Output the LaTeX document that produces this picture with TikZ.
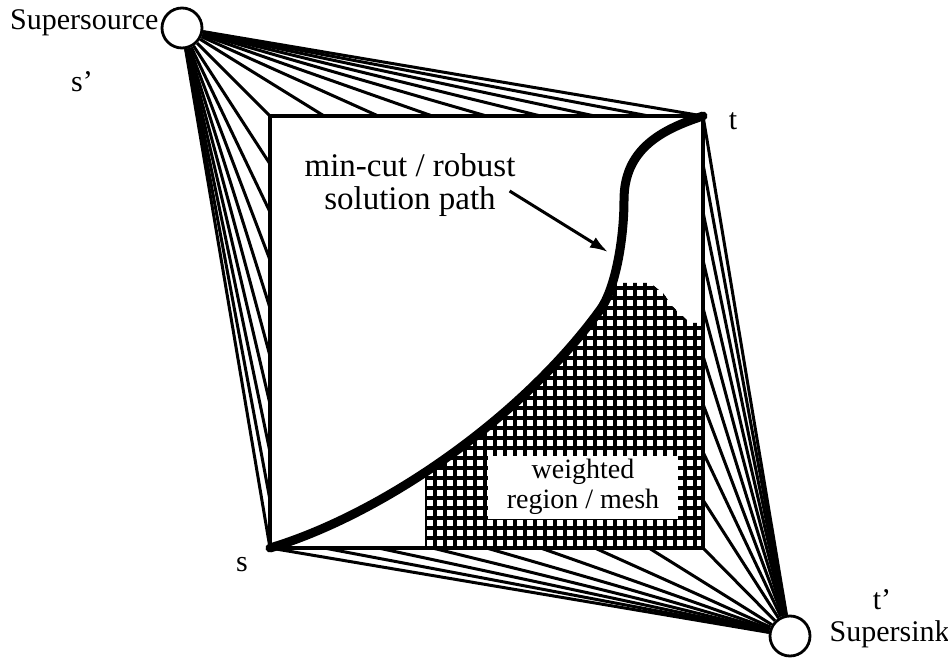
\documentclass[tikz,border=0pt]{standalone}
\usepackage{fontspec}
\setmainfont{Liberation Serif}
\usetikzlibrary{arrows.meta,calc,positioning}
\newcommand{\cutroute}{(s) .. controls (380,515) and (520,420) .. (600,310)
  .. controls (615,290) and (624,240) .. (624,200)
  .. controls (624,150) and (660,130) .. (t)}

\begin{document}
\begin{tikzpicture}[x=1pt,y=-1pt,
    hub/.style={draw,circle,fill=white,line width=2.8pt,minimum size=40pt,inner sep=0pt},
    fan/.style={line width=3pt},
    frame/.style={line width=3.4pt},
    lbl/.style={inner sep=0pt,font=\fontsize{30}{32}\selectfont},
    cutpath/.style={line width=9pt,line cap=round},
    meshline/.style={line width=3.6pt},
    pointer/.style={line width=3pt,-{Latex[length=18pt,width=12pt]}}]
  \useasboundingbox (0,0) rectangle (948,660);
  % square corners
  \coordinate (tl) at (270,116);
  \coordinate (t) at (703,116);
  \coordinate (s) at (270,548);
  \coordinate (br) at (703,548);
  \node[hub] (ss) at (182,28) {};
  \node[hub] (sk) at (790,636) {};
  % fans
  \foreach \k in {0,...,8}
    \draw[fan] (ss) -- ($(tl)!\k/8!(t)$);
  \foreach \k in {1,...,9}
    \draw[fan] (ss) -- ($(tl)!\k/9!(s)$);
  \foreach \k in {0,...,8}
    \draw[fan] (sk) -- ($(br)!\k/8!(s)$);
  \foreach \k in {1,...,9}
    \draw[fan] (sk) -- ($(br)!\k/9!(t)$);
  \draw[frame] (tl) rectangle (br);
  % mesh
  \begin{scope}
    \clip \cutroute -- (br) -- cycle;
    \clip (425,550) -- (425,283) -- (650,283) -- (663,293) -- (673,307)
      -- (690,323) -- (705,323) -- (705,550) -- cycle;
    \foreach \gx in {425,435,...,705}
      \draw[meshline] (\gx,270) -- (\gx,552);
    \foreach \gy in {548,538,...,278}
      \draw[meshline] (420,\gy) -- (710,\gy);
  \end{scope}
  \node[fill=white,minimum width=190pt,minimum height=63pt,align=center,
    font=\fontsize{28}{30}\selectfont] (meshlbl) at (583,487) {weighted\\region / mesh};
  \draw[cutpath] \cutroute;
  % labels
  \node[lbl,left=2pt of ss,yshift=5pt] (srclbl) {Supersource};
  \node[lbl] (sprime) at (82,82) {s'};
  \node[lbl] (tlbl) at (733,121) {t};
  \node[lbl] (slbl) at (242,565) {s};
  \node[lbl] (tprime) at (882,600) {t'};
  \node[lbl,right=18pt of sk,yshift=2pt] (sinklbl) {Supersink};
  \node[lbl,align=center,font=\fontsize{33}{33}\selectfont] (cutlbl) at (410,185)
    {min-cut / robust\\solution path};
  \coordinate (hit) at (608,252);
  \draw[pointer] ([shift={(-6,6)}]cutlbl.east) -- (hit);
\end{tikzpicture}
\end{document}
